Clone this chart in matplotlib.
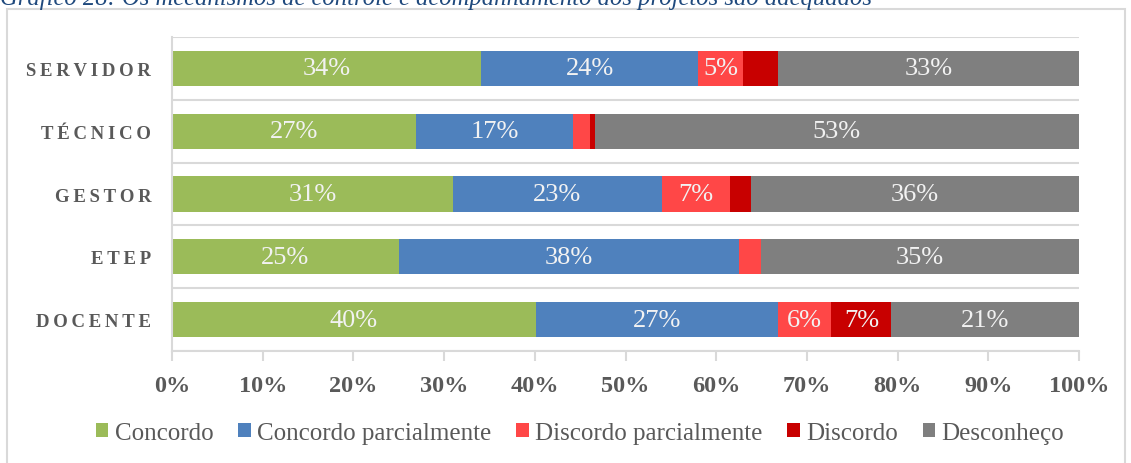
import matplotlib
import matplotlib.pyplot as plt
from matplotlib.patches import Rectangle

matplotlib.use("Agg")

# categories listed bottom to top
categories = ["DOCENTE", "ETEP", "GESTOR", "TÉCNICO", "SERVIDOR"]
series = ["Concordo", "Concordo parcialmente", "Discordo parcialmente", "Discordo", "Desconheço"]
colors = ["#9BBB59", "#4F81BD", "#FF4747", "#C80000", "#7F7F7F"]

concordo = [40.1, 25.0, 31.0, 26.9, 34.1]
concordo_parc = [26.7, 37.5, 23.0, 17.3, 23.9]
discordo_parc = [5.9, 2.4, 7.5, 1.9, 5.0]
discordo = [6.6, 0.0, 2.3, 0.5, 3.8]
desconheco = [20.7, 35.1, 36.2, 53.4, 33.2]

# labels as printed on the bars (None = no label)
labels = [
    ["40%", "25%", "31%", "27%", "34%"],
    ["27%", "38%", "23%", "17%", "24%"],
    ["6%", None, "7%", None, "5%"],
    ["7%", None, None, None, None],
    ["21%", "35%", "36%", "53%", "33%"],
]

values = [concordo, concordo_parc, discordo_parc, discordo, desconheco]
title = "Gráfico 28: Os mecanismos de controle e acompanhamento dos projetos são adequados"

W, H = 1131, 464
fig = plt.figure(figsize=(W / 100, H / 100), dpi=100)
serif = ["Liberation Serif", "DejaVu Serif"]

# outer frame and clipped caption
fig.patches.append(Rectangle((7 / W, -0.1), (1125 - 7) / W, (H - 10) / H + 0.1,
                             transform=fig.transFigure, fill=False,
                             edgecolor="#D9D9D9", lw=1.5))
fig.text(0.0, 1 - 5 / H, title, ha="left", va="baseline", fontsize=17.7,
         style="italic", color="#1F497D", family=serif)

ax = fig.add_axes([172 / W, 112 / H, (1079 - 172) / W, (352 - 38) / H])

y = list(range(len(categories)))
left = [0.0] * len(categories)
for vals, col, name, labs in zip(values, colors, series, labels):
    bars = ax.barh(y, vals, left=left, height=0.56, color=col, label=name)
    for b, lab in zip(bars, labs):
        if lab:
            ax.text(b.get_x() + b.get_width() / 2, b.get_y() + b.get_height() / 2, lab,
                    ha="center", va="center", color="#F2F2F2", fontsize=19, family=serif)
    left = [l + v for l, v in zip(left, vals)]

ax.set_xlim(0, 100)
ax.set_ylim(-0.5, len(categories) - 0.5)
for yb in [i - 0.5 for i in range(len(categories) + 1)]:
    ax.axhline(yb, color="#D9D9D9", lw=1.5, zorder=0)

ax.set_xticks(range(0, 101, 10))
ax.set_xticklabels([f"{t}%" for t in range(0, 101, 10)], fontsize=17.5,
                   fontweight="bold", color="#595959", family=serif)
ax.set_yticks(y)
ax.set_yticklabels(["\u2009".join(c) for c in categories], fontsize=13.5,
                   fontweight="bold", color="#595959", family=serif)
ax.tick_params(axis="x", length=7, color="#D9D9D9", width=1.5, pad=10)
ax.tick_params(axis="y", length=0, pad=15)
for s in ["top", "right"]:
    ax.spines[s].set_visible(False)
for s in ["left", "bottom"]:
    ax.spines[s].set_color("#D9D9D9")
    ax.spines[s].set_linewidth(1.5)

fig.legend(loc="center", bbox_to_anchor=(580 / W, 30 / H), ncol=5, frameon=False,
           prop={"family": serif, "size": 18}, handlelength=0.5, handleheight=0.5,
           handletextpad=0.25, columnspacing=1.0, labelcolor="#595959")

fig.savefig("out.png", dpi=100)
